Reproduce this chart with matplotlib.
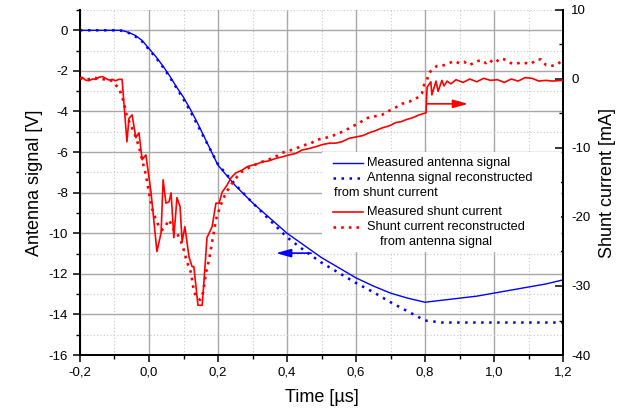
import matplotlib
matplotlib.use("Agg")
import matplotlib.pyplot as plt
from matplotlib.ticker import MultipleLocator, FuncFormatter
from matplotlib.lines import Line2D
from matplotlib.patches import Rectangle

plt.rcParams['font.family'] = ['Liberation Sans', 'DejaVu Sans']

# ---------------- data ----------------
t_blue = [-0.2, -0.15, -0.1, -0.08, -0.06, -0.04, -0.02, 0.0, 0.02, 0.04, 0.06, 0.08,
          0.1, 0.12, 0.14, 0.16, 0.18, 0.2, 0.25, 0.3, 0.35, 0.4, 0.45, 0.5, 0.55, 0.6,
          0.65, 0.7, 0.75, 0.8, 0.85, 0.9, 0.95, 1.0, 1.05, 1.1, 1.15, 1.2]
v_blue_meas = [0, 0, 0, 0, -0.1, -0.25, -0.5, -0.9, -1.3, -1.75, -2.25, -2.8,
               -3.3, -3.9, -4.55, -5.25, -5.95, -6.65, -7.65, -8.5, -9.25, -10.0, -10.6, -11.2, -11.7, -12.2,
               -12.6, -12.95, -13.2, -13.4, -13.3, -13.2, -13.1, -12.95, -12.8, -12.65, -12.5, -12.3]
v_blue_rec = [0, 0, 0, -0.02, -0.12, -0.3, -0.55, -0.95, -1.35, -1.8, -2.3, -2.85,
              -3.4, -4.0, -4.65, -5.3, -5.95, -6.6, -7.6, -8.5, -9.35, -10.2, -10.85, -11.45, -11.95, -12.45,
              -12.9, -13.4, -13.85, -14.3, -14.4, -14.4, -14.4, -14.4, -14.4, -14.4, -14.4, -14.4]

t_red_meas = [-0.200, -0.194, -0.184, -0.174, -0.164, -0.154, -0.145, -0.135, -0.126, -0.116,
              -0.106, -0.097, -0.087, -0.078, -0.064, -0.058, -0.049, -0.038, -0.029, -0.020,
              -0.009, 0.006, 0.023, 0.035, 0.041, 0.049, 0.058, 0.064, 0.072, 0.081,
              0.090, 0.096, 0.104, 0.116, 0.125, 0.130, 0.142, 0.154, 0.159, 0.168,
              0.183, 0.194, 0.203, 0.212, 0.226, 0.238, 0.252, 0.270, 0.285, 0.299,
              0.314, 0.328, 0.345, 0.368, 0.385, 0.406, 0.425, 0.443, 0.462, 0.484,
              0.503, 0.522, 0.540, 0.559, 0.580, 0.600, 0.620, 0.638, 0.656, 0.675,
              0.696, 0.716, 0.730, 0.745, 0.765, 0.783, 0.803, 0.806, 0.817, 0.820,
              0.832, 0.838, 0.849, 0.855, 0.864, 0.875, 0.89, 0.91, 0.93, 0.95,
              0.97, 0.99, 1.01, 1.03, 1.05, 1.07, 1.09, 1.11, 1.13, 1.15, 1.17, 1.2]
i_red_meas = [0.1, 0.25, -0.15, -0.25, 0.0, -0.05, 0.25, 0.35, 0.1, -0.15,
              -0.05, -0.25, -0.05, -0.05, -9.1, -5.7, -5.2, -8.5, -7.8, -11.7,
              -11.0, -16.5, -25.0, -22.3, -14.6, -18.0, -17.8, -16.5, -23.0, -17.2,
              -18.5, -23.6, -21.4, -25.8, -27.2, -27.2, -32.8, -32.8, -29.6, -23.0,
              -21.4, -18.0, -18.0, -16.4, -15.4, -14.3, -13.6, -13.2, -12.7, -12.5,
              -12.3, -12.0, -11.9, -11.5, -11.3, -11.0, -10.8, -10.3, -10.1, -9.8,
              -9.5, -9.3, -9.3, -9.1, -8.6, -8.4, -8.2, -7.8, -7.5, -7.1,
              -6.8, -6.3, -6.2, -5.9, -5.6, -5.2, -4.9, -1.2, -0.4, -2.3,
              -0.3, -1.8, -0.2, -1.0, -0.3, -0.7, -0.1, -0.5, 0.0, -0.4,
              0.1, -0.2, -0.1, -0.5, 0.0, -0.3, 0.2, 0.1, -0.3, -0.2, -0.3, -0.2]

t_red_rec = [-0.200, -0.180, -0.160, -0.140, -0.120, -0.105, -0.096, -0.087, -0.078, -0.072,
             -0.067, -0.058, -0.043, -0.029, -0.020, -0.009, 0.000, 0.009, 0.020, 0.029,
             0.038, 0.049, 0.058, 0.072, 0.081, 0.093, 0.101, 0.110, 0.122, 0.128,
             0.136, 0.148, 0.157, 0.165, 0.174, 0.183, 0.188, 0.194, 0.203, 0.212,
             0.223, 0.241, 0.255, 0.270, 0.299, 0.328, 0.362, 0.391, 0.412, 0.429,
             0.449, 0.470, 0.487, 0.507, 0.528, 0.545, 0.571, 0.588, 0.609, 0.629,
             0.646, 0.675, 0.696, 0.716, 0.733, 0.754, 0.774, 0.783, 0.791, 0.797,
             0.806, 0.812, 0.820, 0.835, 0.855, 0.870, 0.884, 0.899, 0.913, 0.928,
             0.948, 0.962, 0.977, 0.986, 1.000, 1.020, 1.035, 1.049, 1.064, 1.078,
             1.093, 1.107, 1.122, 1.136, 1.151, 1.165, 1.180, 1.200]
i_red_rec = [0.1, -0.1, 0.2, 0.0, -0.1, -0.3, -0.9, -1.3, -2.6, -3.5,
             -4.9, -6.1, -7.8, -9.8, -11.7, -13.9, -16.5, -18.8, -20.4, -21.4,
             -21.9, -21.2, -20.4, -21.9, -22.3, -23.6, -24.8, -26.5, -28.1, -30.1,
             -31.6, -32.0, -30.9, -28.1, -26.2, -23.6, -22.2, -20.4, -19.0, -17.7,
             -16.5, -15.1, -14.2, -13.4, -12.6, -12.0, -11.4, -10.6, -10.3, -10.0,
             -9.6, -9.3, -8.8, -8.6, -8.3, -8.0, -7.4, -6.9, -6.4, -5.7,
             -5.5, -5.2, -4.6, -4.1, -3.6, -3.3, -2.8, -2.6, -2.1, -0.9,
             -0.1, 0.9, 1.3, 1.9, 2.0, 2.3, 2.6, 2.3, 2.5, 2.0,
             2.5, 2.75, 2.3, 2.75, 2.3, 3.0, 2.75, 2.3, 2.2, 2.4,
             2.3, 2.2, 2.75, 2.85, 2.0, 1.9, 2.0, 2.75]

x_ticks = [-0.2, 0.0, 0.2, 0.4, 0.6, 0.8, 1.0, 1.2]
left_ticks = [0, -2, -4, -6, -8, -10, -12, -14, -16]
right_ticks = [10, 0, -10, -20, -30, -40]

legend_labels = ["Measured antenna signal", "Antenna signal reconstructed", "from shunt current",
                 "Measured shunt current", "Shunt current reconstructed", "from antenna signal"]

BLUE = '#0000ff'
RED = '#ff0000'

# ---------------- figure ----------------
fig = plt.figure(figsize=(6.28, 4.13), dpi=100)
ax = fig.add_axes([80 / 628, 1 - 355 / 413, 483 / 628, 345 / 413])
ax2 = ax.twinx()

ax.set_xlim(-0.2, 1.2)
ax.set_ylim(-16, 1)
ax2.set_ylim(-40, 10)

# grid
ax.xaxis.set_major_locator(MultipleLocator(0.2))
ax.xaxis.set_minor_locator(MultipleLocator(0.1))
ax.yaxis.set_major_locator(MultipleLocator(2))
ax.yaxis.set_minor_locator(MultipleLocator(1))
ax.set_yticks(left_ticks)
ax.set_xticks(x_ticks)
ax.grid(which='major', color='#a8a8a8', linestyle='-', linewidth=1.0)
ax.grid(which='minor', color='#c8c8c8', linestyle=(0, (1, 2)), linewidth=0.8)
ax.set_axisbelow(True)

ax2.set_yticks(right_ticks)
ax2.yaxis.set_minor_locator(MultipleLocator(5))

ax.xaxis.set_major_formatter(FuncFormatter(lambda x, p: f"{x:.1f}".replace('.', ',').replace('-0,0', '0,0')))
ax.yaxis.set_major_formatter(FuncFormatter(lambda y, p: f"{int(round(y))}"))
ax2.yaxis.set_major_formatter(FuncFormatter(lambda y, p: f"{int(round(y))}"))

# spines
for a in (ax, ax2):
    a.spines['top'].set_visible(False)
    for s in ('left', 'right', 'bottom'):
        a.spines[s].set_linewidth(1.4)
        a.spines[s].set_color('black')

ax.tick_params(axis='both', which='major', direction='out', length=5, width=1.1, labelsize=9.5)
ax.tick_params(axis='both', which='minor', direction='out', length=3, width=1.0)
ax2.tick_params(axis='y', which='major', direction='in', length=6, width=1.1, labelsize=9.5, pad=6)
ax2.tick_params(axis='y', which='minor', direction='in', length=3, width=1.0)

# curves
ax.plot(t_blue, v_blue_meas, color=BLUE, linewidth=1.0, zorder=3)
ax.plot(t_blue, v_blue_rec, color=BLUE, linewidth=1.8, linestyle=(0, (1, 2.2)), zorder=3)
ax2.plot(t_red_meas, i_red_meas, color=RED, linewidth=1.2, zorder=3)
ax2.plot(t_red_rec, i_red_rec, color=RED, linewidth=1.9, linestyle=(0, (1, 1.9)), zorder=3)

# arrows
ax.annotate('', xy=(0.368, -10.98), xytext=(0.47, -10.98),
            arrowprops=dict(arrowstyle='-|>,head_length=0.9,head_width=0.25', color=BLUE, lw=1.2,
                            shrinkA=0, shrinkB=0))
ax2.annotate('', xy=(0.925, -3.6), xytext=(0.806, -3.6),
             arrowprops=dict(arrowstyle='-|>,head_length=0.9,head_width=0.25', color=RED, lw=1.2,
                             shrinkA=0, shrinkB=0))

# labels
ax.set_xlabel('Time [µs]', fontsize=13, labelpad=7)
ax.set_ylabel('Antenna signal [V]', fontsize=13, labelpad=4)
ax2.set_ylabel('Shunt current [mA]', fontsize=13, labelpad=6)

# manual legend (axes fraction coordinates)
def fx(px):
    return (px - 80) / 483

def fy(py):
    return (355 - py) / 345

bg = Rectangle((fx(322), fy(252)), fx(561) - fx(322), fy(152) - fy(252), transform=ax2.transAxes,
               facecolor='white', edgecolor='none', zorder=10)
ax2.add_patch(bg)
hx = [fx(333), fx(363)]
styles = [(BLUE, '-', 1.0, 163), (BLUE, (0, (1, 2.2)), 1.8, 178),
          (RED, '-', 1.2, 212), (RED, (0, (1, 1.9)), 1.9, 227)]
for c, ls, lw, py in styles:
    ax2.add_line(Line2D(hx, [fy(py), fy(py)], transform=ax2.transAxes, color=c, linestyle=ls,
                        linewidth=lw, zorder=11))
text_pos = [(367, 163), (367, 178), (334, 193), (367, 212), (367, 227), (380, 242)]
for lab, (px, py) in zip(legend_labels, text_pos):
    ax2.text(fx(px), fy(py), lab, transform=ax2.transAxes, fontsize=9.2, va='center', ha='left',
             zorder=12)

fig.savefig('out.png', dpi=100)
